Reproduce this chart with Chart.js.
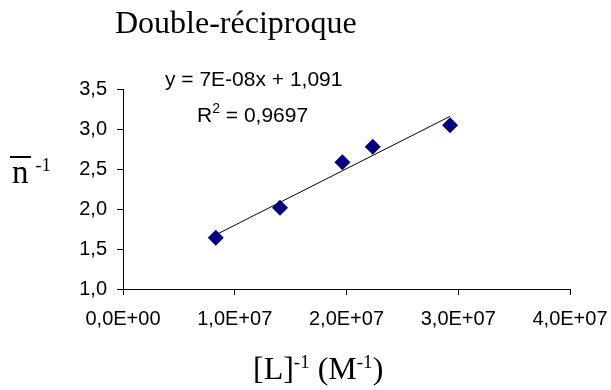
<!DOCTYPE html>
<html>
<head>
<meta charset="utf-8">
<script src="https://cdn.jsdelivr.net/npm/chart.js@4.4.1/dist/chart.umd.min.js"></script>
<style>
  html, body { margin: 0; padding: 0; background: #fff; }
  #wrap { position: relative; width: 611px; height: 390px; }
  #wrap canvas { position: absolute; left: 0; top: 0; }
  .lbl { position: absolute; white-space: nowrap; line-height: 1; color: #000; }
  .serif { font-family: "Liberation Serif", "Times New Roman", serif; }
  .sans { font-family: "Liberation Sans", Arial, sans-serif; }
  .up { position: relative; vertical-align: baseline; }
</style>
</head>
<body>
<div id="wrap">
  <canvas id="chart" width="611" height="390"></canvas>
  <div class="lbl serif" style="left:115px; top:6px; font-size:32px;">Double-réciproque</div>
  <div class="lbl sans" style="left:165px; top:68px; font-size:21px;">y = 7E-08x + 1,091</div>
  <div class="lbl sans" style="left:197px; top:104px; font-size:21px;">R<span class="up" style="font-size:14px; top:-9px;">2</span> = 0,9697</div>
  <div class="lbl serif" style="left:10px; top:156px; font-size:33px;"><span style="display:inline-block; border-top:2px solid #000; line-height:0.85; padding:0 2px;">n</span><span class="up" style="font-size:19px; top:-12px;">&nbsp;-1</span></div>
  <div class="lbl serif" style="left:253px; top:352px; font-size:32px;">[L]<span class="up" style="font-size:19px; top:-11px;">-1</span> (M<span class="up" style="font-size:19px; top:-11px;">-1</span>)</div>
</div>
<script>
// Double-reciprocal plot: 1/n versus 1/[L]
const invL = [0.83e7, 1.405e7, 1.963e7, 2.235e7, 2.927e7];
const invN = [1.641, 2.016, 2.584, 2.779, 3.046];
const xTicks = [0, 1e7, 2e7, 3e7, 4e7];
const yTicks = [1.0, 1.5, 2.0, 2.5, 3.0, 3.5];

// least-squares trend line, like the spreadsheet's linear trendline
function linearFit(xs, ys) {
    const n = xs.length;
    const mx = xs.reduce((a, b) => a + b, 0) / n;
    const my = ys.reduce((a, b) => a + b, 0) / n;
    let sxy = 0, sxx = 0;
    xs.forEach((x, i) => { sxy += (x - mx) * (ys[i] - my); sxx += (x - mx) * (x - mx); });
    const slope = sxy / sxx;
    return { slope, intercept: my - slope * mx };
}

const fit = linearFit(invL, invN);
const xMin = Math.min(...invL), xMax = Math.max(...invL);
const trend = [xMin, xMax].map(x => ({ x, y: fit.slope * x + fit.intercept }));
const points = invL.map((x, i) => ({ x, y: invN[i] }));

const fmtComma = (v, digits) => v.toFixed(digits).replace('.', ',');
const fmtExp = v => {
    const s = v.toExponential(1);             // e.g. "1.0e+7"
    const [m, e] = s.split('e');
    const sign = e[0] === '-' ? '-' : '+';
    const ex = Math.abs(parseInt(e, 10)).toString().padStart(2, '0');
    return m.replace('.', ',') + 'E' + sign + ex;
};

const tickFont = { family: '"Liberation Sans", Arial, sans-serif', size: 20 };

new Chart(document.getElementById('chart'), {
    data: {
        datasets: [
            {
                type: 'line',
                data: trend,
                borderColor: '#000',
                borderWidth: 1,
                pointRadius: 0,
                fill: false,
                order: 2
            },
            {
                type: 'scatter',
                data: points,
                pointStyle: 'rectRot',
                pointRadius: 8,
                pointHoverRadius: 8,
                backgroundColor: '#000080',
                borderColor: '#000080',
                borderWidth: 0,
                order: 1
            }
        ]
    },
    options: {
        responsive: false,
        animation: false,
        events: [],
        layout: { padding: { top: 89, left: 0, right: 41, bottom: 61 } },
        plugins: {
            legend: { display: false },
            tooltip: { enabled: false },
            title: { display: false }
        },
        scales: {
            x: {
                type: 'linear',
                min: 0,
                max: 4e7,
                afterBuildTicks: s => { s.ticks = xTicks.map(v => ({ value: v })); },
                afterFit: s => { s.height = 40; s.paddingLeft = 0; s.paddingRight = 0; },
                border: { display: true, color: '#000', width: 1 },
                grid: { display: true, drawOnChartArea: false, drawTicks: true, tickLength: 6, color: '#000' },
                ticks: { color: '#000', font: tickFont, padding: 12, maxRotation: 0, autoSkip: false, callback: v => fmtExp(v) }
            },
            y: {
                type: 'linear',
                min: 1,
                max: 3.5,
                afterBuildTicks: s => { s.ticks = yTicks.map(v => ({ value: v })); },
                afterFit: s => { s.width = 123; s.paddingTop = 0; s.paddingBottom = 0; },
                border: { display: true, color: '#000', width: 1 },
                grid: { display: true, drawOnChartArea: false, drawTicks: true, tickLength: 6, color: '#000' },
                ticks: { color: '#000', font: tickFont, padding: 10, autoSkip: false, callback: v => fmtComma(v, 1) }
            }
        }
    }
});
</script>
</body>
</html>
